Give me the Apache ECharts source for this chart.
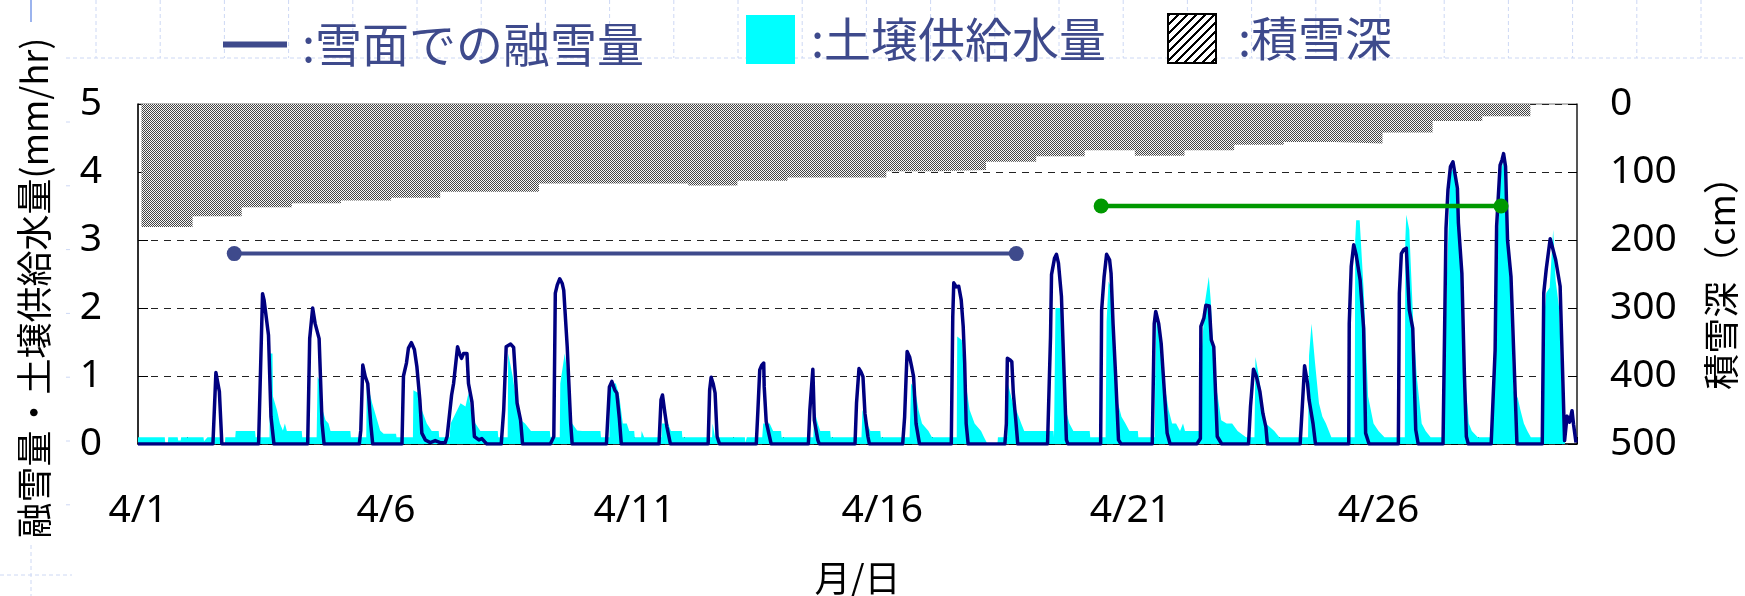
<!DOCTYPE html>
<html><head><meta charset="utf-8">
<script src="https://cdn.jsdelivr.net/npm/echarts@6/dist/echarts.min.js"></script>
<style>html,body{margin:0;padding:0;background:#fff}#c{width:1745px;height:596px}</style>
</head><body><div id="c"></div>
<script>
// x = days since 4/1 00:00
const xTickDays = [0, 5, 10, 15, 20, 25];
const xTickLabels = ['4/1', '4/6', '4/11', '4/16', '4/21', '4/26'];

// 雪面での融雪量 (mm/hr)
const snowmelt = [
[0,0],
[1.51,0],[1.57,1.05],[1.64,0.77],[1.69,0],
[2.43,0],[2.51,2.21],[2.54,2.12],[2.63,1.6],[2.68,0.4],[2.74,0],
[3.42,0],[3.46,1.55],[3.52,2.0],[3.57,1.77],[3.65,1.55],[3.71,0.3],[3.75,0],
[4.46,0],[4.49,0.2],[4.53,1.16],[4.58,0.99],[4.63,0.89],[4.69,0.3],[4.73,0],
[5.32,0],[5.35,1.0],[5.41,1.19],[5.45,1.41],[5.51,1.49],[5.57,1.39],[5.62,1.14],[5.68,0.65],[5.72,0.16],[5.79,0.06],[5.89,0.02],[5.99,0.05],[6.09,0.02],[6.19,0.02],
[6.23,0.11],[6.32,0.72],[6.36,0.89],[6.44,1.43],[6.48,1.33],[6.52,1.26],[6.56,1.33],[6.63,1.33],[6.66,0.89],[6.73,0.62],[6.78,0.11],[6.87,0.06],[6.93,0.08],[6.99,0.03],[7.03,0],
[7.32,0],[7.37,0.5],[7.42,1.43],[7.51,1.47],[7.57,1.42],[7.64,0.6],[7.71,0.35],[7.75,0],
[8.31,0],[8.38,0.11],[8.41,2.22],[8.45,2.34],[8.5,2.43],[8.55,2.36],[8.58,2.26],[8.65,1.43],[8.72,0.3],[8.75,0],
[9.44,0],[9.5,0.84],[9.55,0.92],[9.61,0.79],[9.65,0.75],[9.7,0.38],[9.74,0],
[10.5,0],[10.54,0.65],[10.57,0.72],[10.62,0.45],[10.66,0.25],[10.73,0],
[11.49,0],[11.52,0.79],[11.55,0.98],[11.59,0.89],[11.63,0.75],[11.67,0.11],[11.72,0],
[12.46,0],[12.49,0.45],[12.53,1.09],[12.57,1.16],[12.61,1.19],[12.62,0.84],[12.66,0.33],[12.76,0],
[13.51,0],[13.54,0.5],[13.6,1.1],[13.63,0.35],[13.7,0.06],[13.73,0],
[14.45,0],[14.48,0.6],[14.53,1.11],[14.57,1.06],[14.61,0.99],[14.65,0.45],[14.71,0.11],[14.74,0],
[15.41,0],[15.45,0.4],[15.48,0.99],[15.5,1.36],[15.55,1.28],[15.59,1.14],[15.63,0.99],[15.68,0.3],[15.75,0],
[16.39,0],[16.42,1.87],[16.44,2.37],[16.49,2.31],[16.54,2.32],[16.59,2.12],[16.63,1.73],[16.66,1.19],[16.69,0.3],[16.73,0],
[17.47,0],[17.5,0.3],[17.52,1.26],[17.57,1.24],[17.61,1.21],[17.64,0.75],[17.69,0.35],[17.73,0],
[18.33,0],[18.39,1.58],[18.41,2.49],[18.47,2.73],[18.51,2.79],[18.55,2.66],[18.61,2.17],[18.64,1.53],[18.71,0.06],[18.74,0],
[19.4,0],[19.42,1.97],[19.47,2.46],[19.52,2.79],[19.58,2.71],[19.61,2.51],[19.65,1.77],[19.7,1.04],[19.76,0.06],[19.81,0],
[20.44,0],[20.48,1.77],[20.51,1.95],[20.57,1.77],[20.62,1.48],[20.66,1.04],[20.74,0.16],[20.8,0],
[21.34,0],[21.41,0.08],[21.42,1.73],[21.48,1.85],[21.52,2.04],[21.59,2.03],[21.63,1.53],[21.68,1.43],[21.75,0.11],[21.84,0],
[22.38,0],[22.42,0.55],[22.48,1.1],[22.54,0.99],[22.61,0.77],[22.67,0.45],[22.73,0.25],[22.76,0],
[23.42,0],[23.46,0.5],[23.51,1.15],[23.57,0.89],[23.6,0.65],[23.68,0.3],[23.73,0],
[24.4,0],[24.41,1.77],[24.45,2.61],[24.5,2.93],[24.55,2.78],[24.63,2.41],[24.7,1.7],[24.74,0.16],[24.81,0],
[25.4,0],[25.42,2.22],[25.46,2.8],[25.51,2.86],[25.56,2.88],[25.62,1.97],[25.69,1.7],[25.75,0.21],[25.8,0],
[26.3,0],[26.36,3.17],[26.4,3.74],[26.45,4.08],[26.5,4.15],[26.59,3.76],[26.61,3.25],[26.68,2.51],[26.73,1.04],[26.77,0.11],[26.81,0],
[27.27,0],[27.35,1.38],[27.38,3.2],[27.45,4.1],[27.49,4.18],[27.52,4.27],[27.56,4.08],[27.6,3.0],[27.67,2.46],[27.74,1.04],[27.79,0],
[28.3,0],[28.33,2.22],[28.38,2.57],[28.46,3.02],[28.57,2.71],[28.66,2.32],[28.75,0.05],[28.8,0.41],[28.85,0.32],[28.9,0.49],[28.93,0.29],[28.98,0.02]
];

// 土壌供給水量 (mm/hr)
const soilSupply = [
[0,0.1],[0.54,0.1],[0.55,0],[0.6,0],[0.61,0.1],[0.8,0.1],[0.81,0.05],[0.86,0.05],[0.87,0.1],[1.32,0.1],[1.33,0.04],[1.4,0.1],[1.66,0.1],[1.67,0],[1.75,0],[1.76,0.1],[1.96,0.1],[1.97,0.19],[2.36,0.19],[2.37,0.1],[2.65,0.1],
[2.66,1.33],[2.71,1.33],[2.72,0.7],[2.76,0.6],[2.8,0.5],[2.86,0.3],[2.92,0.2],[2.96,0.3],[3.0,0.19],[3.3,0.19],[3.31,0.1],[3.6,0.1],
[3.62,0.99],[3.68,0.89],[3.72,0.5],[3.78,0.35],[3.84,0.3],[3.88,0.19],[4.28,0.19],[4.29,0.1],[4.6,0.1],
[4.61,0.89],[4.67,0.75],[4.72,0.6],[4.8,0.4],[4.88,0.2],[4.95,0.15],[5.2,0.15],[5.21,0.1],[5.54,0.1],
[5.55,0.79],[5.65,0.75],[5.72,0.5],[5.82,0.3],[5.92,0.19],[6.06,0.19],[6.07,0.1],[6.28,0.1],
[6.3,0.3],[6.5,0.6],[6.6,0.55],[6.66,0.75],[6.72,0.45],[6.8,0.3],[6.9,0.19],[7.25,0.19],[7.26,0.1],[7.45,0.1],
[7.46,1.33],[7.55,1.0],[7.62,0.65],[7.72,0.35],[7.8,0.3],[7.92,0.19],[8.3,0.19],[8.31,0.1],[8.5,0.1],
[8.51,0.89],[8.6,1.33],[8.66,1.0],[8.75,0.3],[8.85,0.2],[8.95,0.19],[9.32,0.19],[9.33,0.1],[9.5,0.1],
[9.51,0.89],[9.63,0.89],[9.7,0.7],[9.77,0.3],[9.85,0.3],[9.9,0.19],[10.0,0.19],[10.01,0.1],[10.14,0.1],[10.15,0.19],[10.2,0.1],[10.55,0.1],
[10.56,0.3],[10.68,0.3],[10.74,0.19],[10.96,0.19],[10.97,0.1],[11.57,0.1],
[11.58,0.3],[11.63,0.1],[12.23,0.1],[12.24,0.02],[12.27,0.1],[12.58,0.1],
[12.6,0.3],[12.73,0.3],[12.8,0.19],[12.96,0.19],[12.97,0.1],[13.61,0.1],
[13.63,0.5],[13.7,0.3],[13.75,0.19],[13.95,0.19],[13.96,0.1],[14.58,0.1],
[14.6,0.5],[14.69,0.3],[14.76,0.19],[14.96,0.19],[14.97,0.1],[15.55,0.1],
[15.58,0.89],[15.66,0.8],[15.73,0.5],[15.8,0.3],[15.93,0.19],[16.0,0.1],[16.5,0.1],
[16.51,1.58],[16.6,1.53],[16.66,1.0],[16.76,0.5],[16.86,0.3],[16.99,0.19],[17.05,0.1],[17.12,0],[17.32,0],[17.33,0.1],[17.52,0.1],
[17.53,0.89],[17.63,0.6],[17.7,0.5],[17.8,0.3],[17.86,0.19],[18.45,0.19],[18.46,0.1],[18.48,0.1],
[18.49,2.0],[18.6,2.0],[18.65,1.2],[18.7,0.5],[18.77,0.3],[18.85,0.19],[19.18,0.19],[19.19,0.1],[19.5,0.1],
[19.52,1.8],[19.56,2.39],[19.61,2.3],[19.68,1.3],[19.75,0.6],[19.82,0.4],[19.9,0.3],[19.98,0.19],[20.15,0.19],[20.16,0.1],[20.49,0.1],
[20.5,1.0],[20.53,1.92],[20.59,1.77],[20.66,1.0],[20.77,0.5],[20.84,0.3],[20.92,0.3],[21.0,0.19],[21.06,0.3],[21.1,0.19],[21.4,0.19],
[21.44,1.4],[21.5,2.07],[21.58,2.46],[21.62,2.1],[21.69,1.0],[21.76,0.7],[21.83,0.35],[21.94,0.3],[22.05,0.3],[22.16,0.19],[22.33,0.1],[22.5,0.1],
[22.52,1.28],[22.59,0.99],[22.66,0.6],[22.73,0.3],[22.9,0.19],[23.0,0.1],[23.58,0.1],
[23.6,1.3],[23.65,1.77],[23.72,1.2],[23.8,0.6],[23.87,0.4],[23.94,0.3],[24.05,0.1],[24.52,0.1],
[24.53,3.0],[24.55,3.29],[24.62,3.29],[24.7,2.27],[24.79,0.7],[24.9,0.3],[25.0,0.19],[25.12,0.1],[25.53,0.1],
[25.54,3.0],[25.56,3.37],[25.62,3.15],[25.7,1.78],[25.77,1.0],[25.87,0.3],[25.95,0.19],[26.05,0.1],[26.3,0.1],
[26.38,2.5],[26.45,3.98],[26.53,4.08],[26.6,3.3],[26.67,2.5],[26.74,1.04],[26.82,0.3],[26.88,0.19],[27.0,0.1],[27.28,0.1],
[27.38,2.5],[27.45,3.93],[27.52,4.2],[27.58,3.1],[27.65,2.46],[27.72,0.8],[27.77,0.6],[27.8,0.7],[27.86,0.5],[27.93,0.3],[28.0,0.19],[28.07,0.1],[28.3,0.1],
[28.33,1.8],[28.38,2.22],[28.45,2.3],[28.52,3.15],[28.57,2.4],[28.64,2.0],[28.72,0.3],[28.76,0],[29,0]
];

// 積雪深 (cm), value holds from this day until the next entry
const snowDepth = [
[0.07,181],[1.10,165],[2.09,152],[3.10,146],[4.09,142],[5.10,138],[6.09,129],[8.08,117],[11.09,120],[12.08,113],
[13.09,108],[15.08,99],[16.09,97],[17.09,85],[18.10,77],[19.08,68],[20.09,76],[21.09,68],[22.09,60],[23.09,56],
[24.11,58],[25.08,42],[26.09,25],[27.09,18],[28.06,0]
];

// marked periods
const period1 = [[1.94, 2.8], [17.7, 2.8]];
const period2 = [[19.41, 3.5], [27.47, 3.5]];

const NAME_MELT = '雪面での融雪量', NAME_SOIL = '土壌供給水量', NAME_SNOW = '積雪深';
const CJK = '"Noto Sans CJK JP", "Noto Sans", sans-serif';
const NUM = '"Noto Sans", "DejaVu Sans", sans-serif';
const LEG = '#3E4A8C';

function fineHatch() {
  const c = document.createElement('canvas'); c.width = 2; c.height = 2;
  const g = c.getContext('2d');
  g.fillStyle = '#f6f6f6'; g.fillRect(0, 0, 2, 2);
  g.fillStyle = '#444444'; g.fillRect(0, 0, 1, 1); g.fillRect(1, 1, 1, 1);
  return c;
}
function coarseHatch() {
  const c = document.createElement('canvas'); c.width = 9; c.height = 9;
  const g = c.getContext('2d');
  g.fillStyle = '#ffffff'; g.fillRect(0, 0, 9, 9);
  g.fillStyle = '#000000';
  for (let y = 0; y < 9; y++) for (let x = 0; x < 9; x++) if ((x + y) % 9 < 3) g.fillRect(x, y, 1, 1);
  return c;
}

const chart = echarts.init(document.getElementById('c'), null, { renderer: 'canvas' });

const deco = [];
const decoColor = '#cdd8f4';
deco.push({ type: 'line', z: -10, shape: { x1: 66, y1: 58, x2: 1745, y2: 58 }, style: { stroke: decoColor, lineWidth: 1, lineDash: [4, 3] } });
for (let x = 96; x < 1745; x += 64.2) {
  deco.push({ type: 'line', z: -10, shape: { x1: x, y1: 0, x2: x, y2: 58 }, style: { stroke: decoColor, lineWidth: 1, lineDash: [4, 3] } });
}
for (let y = 122; y < 520; y += 63.8) {
  deco.push({ type: 'line', z: -10, shape: { x1: 66, y1: y, x2: 70, y2: y }, style: { stroke: decoColor, lineWidth: 1 } });
}
deco.push({ type: 'line', z: -10, shape: { x1: 0, y1: 575, x2: 72, y2: 575 }, style: { stroke: decoColor, lineWidth: 1, lineDash: [4, 3] } });
deco.push({ type: 'line', z: -10, shape: { x1: 31, y1: 545, x2: 31, y2: 596 }, style: { stroke: decoColor, lineWidth: 1, lineDash: [4, 3] } });
deco.push({ type: 'line', z: -10, shape: { x1: 31, y1: 0, x2: 31, y2: 22 }, style: { stroke: '#7b9be8', lineWidth: 1.5 } });

const legendText = { color: LEG, fontSize: 47, fontFamily: CJK };

chart.setOption({
  animation: false,
  backgroundColor: '#ffffff',
  graphic: deco,
  legend: [
    { data: [{ name: NAME_MELT, icon: 'rect', itemStyle: { color: LEG, borderWidth: 0 } }],
      left: 223, top: 21, padding: 0, itemWidth: 64, itemHeight: 6, formatter: ':{name}',
      textStyle: Object.assign({ padding: [0, 0, 0, 10] }, legendText), selectedMode: false },
    { data: [{ name: NAME_SOIL, icon: 'rect', itemStyle: { color: '#00FFFF', borderWidth: 0 } }],
      left: 746, top: 15, padding: 0, itemWidth: 49, itemHeight: 49, formatter: ':{name}',
      textStyle: Object.assign({ padding: [0, 0, 0, 11] }, legendText), selectedMode: false },
    { data: [{ name: NAME_SNOW, icon: 'rect', itemStyle: { color: { image: coarseHatch(), repeat: 'repeat' }, borderColor: '#000', borderWidth: 2 } }],
      left: 1167, top: 13, padding: 0, itemWidth: 48, itemHeight: 49, formatter: ':{name}',
      textStyle: Object.assign({ padding: [0, 0, 0, 17] }, legendText), selectedMode: false }
  ],
  grid: { left: 138, right: 168, top: 104, bottom: 152, outerBoundsMode: 'none', containLabel: false, show: true, borderColor: '#777', borderWidth: 1, backgroundColor: 'transparent' },
  xAxis: {
    type: 'value', min: 0, max: 29, interval: 1,
    name: '月/日', nameLocation: 'middle', nameGap: 116,
    nameTextStyle: { fontSize: 36, fontFamily: CJK, color: '#000' },
    axisLine: { lineStyle: { color: '#000', width: 1.5 } },
    axisTick: { inside: true, length: 7, lineStyle: { color: '#000', width: 1 } },
    axisLabel: {
      margin: 47, fontSize: 39, fontFamily: NUM, color: '#000',
      formatter: v => { const i = xTickDays.indexOf(v); return i >= 0 ? xTickLabels[i] : ''; }
    },
    splitLine: { show: false }
  },
  yAxis: [
    {
      type: 'value', min: 0, max: 5, interval: 1, position: 'left',
      name: '融雪量・土壌供給水量(mm/hr)', nameLocation: 'middle', nameRotate: 90, nameGap: 86,
      nameTextStyle: { fontSize: 36, fontFamily: CJK, color: '#000', padding: [0, 28, 0, 0] },
      axisLine: { show: true, lineStyle: { color: '#000', width: 1.5 } },
      axisTick: { show: true, inside: true, length: 10, lineStyle: { color: '#000' } },
      axisLabel: { margin: 36, fontSize: 39, fontFamily: NUM, color: '#000' },
      splitLine: { show: true, lineStyle: { color: '#222', width: 1, type: [7, 6] } }
    },
    {
      type: 'value', min: 0, max: 500, interval: 100, inverse: true, position: 'right',
      name: '積雪深（cm）', nameLocation: 'middle', nameRotate: 90, nameGap: 126,
      nameTextStyle: { fontSize: 36, fontFamily: CJK, color: '#000' },
      axisLine: { show: true, lineStyle: { color: '#333', width: 1.5 } },
      axisTick: { show: true, inside: true, length: 9, lineStyle: { color: '#000' } },
      axisLabel: { margin: 33, fontSize: 39, fontFamily: NUM, color: '#000' },
      splitLine: { show: false }
    }
  ],
  series: [
    {
      name: NAME_SNOW, type: 'line', yAxisIndex: 1, step: 'end', data: snowDepth,
      symbol: 'none', lineStyle: { width: 0, opacity: 0 },
      itemStyle: { color: '#888' },
      areaStyle: { origin: 'start', opacity: 1, color: { image: fineHatch(), repeat: 'repeat' } },
      z: 1
    },
    {
      name: NAME_SOIL, type: 'line', data: soilSupply, symbol: 'none',
      lineStyle: { width: 0, opacity: 0 }, itemStyle: { color: '#00FFFF' },
      areaStyle: { color: '#00FFFF', opacity: 1, origin: 'start' }, z: 2
    },
    {
      name: NAME_MELT, type: 'line', data: snowmelt, symbol: 'none',
      lineStyle: { color: '#000080', width: 3.5, join: 'round' }, itemStyle: { color: '#000080' }, z: 3
    },
    {
      name: 'period1', type: 'line', data: period1, symbol: 'circle', symbolSize: 15, showSymbol: true,
      lineStyle: { color: LEG, width: 4 }, itemStyle: { color: LEG }, z: 4
    },
    {
      name: 'period2', type: 'line', data: period2, symbol: 'circle', symbolSize: 15, showSymbol: true,
      lineStyle: { color: '#009900', width: 4.5 }, itemStyle: { color: '#009900' }, z: 4
    }
  ]
});
</script></body></html>
